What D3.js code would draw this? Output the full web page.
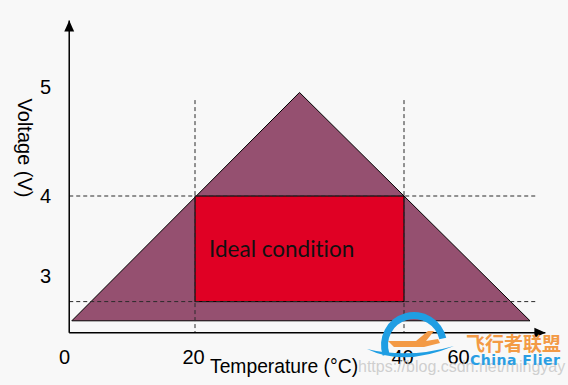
<!DOCTYPE html>
<html>
<head>
<meta charset="utf-8">
<script src="https://cdn.jsdelivr.net/npm/d3@7"></script>
<style>
  body { margin: 0; background: #f8f8f8; }
  svg { display: block; }
</style>
</head>
<body>
<svg id="chart" width="568" height="385"></svg>
<script>
// Schematic: operating window (triangle) and ideal condition (rectangle)
const xTicks = [0, 20, 40, 60];
const yTicks = [3, 4, 5];

// axis extents (temperature, voltage)
const tMin = 0.5, tMax = 90.5;
const vMin = 2.29, vMax = 5.61;

// operating range triangle
const triTemp = [0.9, 30, 85];
const triVolt = [2.44, 4.95, 2.44];

// ideal condition box
const idealTemp = [20, 40];
const idealVolt = [2.68, 4];

// guide lines
const guideTempEnd = 87;
const guideVoltTop = 4.88;

const svg = d3.select("#chart");

// the picture's ticks are not evenly spaced, so piecewise scales
const x = d3.scaleLinear().domain(xTicks).range([66, 195, 404, 460]);
const y = d3.scaleLinear().domain(yTicks).range([276, 196, 87]);

// arrow head
svg.append("defs").append("marker")
    .attr("id", "arrow")
    .attr("viewBox", "0 -5 10 10")
    .attr("refX", 10)
    .attr("refY", 0)
    .attr("markerUnits", "userSpaceOnUse")
    .attr("markerWidth", 11)
    .attr("markerHeight", 11)
    .attr("orient", "auto")
  .append("path")
    .attr("d", "M0,-4.5L10,0L0,4.5Z")
    .attr("fill", "#000");

// triangle
const tri = triTemp.map((t, i) => [x(t), y(triVolt[i])]);
svg.append("path")
    .attr("d", d3.line()(tri) + "Z")
    .attr("fill", "#955070")
    .attr("stroke", "#000")
    .attr("stroke-width", 1);

// ideal box
svg.append("rect")
    .attr("x", x(idealTemp[0]))
    .attr("y", y(idealVolt[1]))
    .attr("width", x(idealTemp[1]) - x(idealTemp[0]))
    .attr("height", y(idealVolt[0]) - y(idealVolt[1]))
    .attr("fill", "#e00024")
    .attr("stroke", "#000")
    .attr("stroke-width", 1);

// dashed guides
const guides = svg.append("g")
    .attr("stroke", "#2a2a2a")
    .attr("stroke-width", 1)
    .attr("stroke-dasharray", "4,3");

idealVolt.forEach(v => {
    guides.append("line")
        .attr("x1", x(tMin)).attr("x2", x(guideTempEnd))
        .attr("y1", y(v)).attr("y2", y(v));
});
idealTemp.forEach(t => {
    guides.append("line")
        .attr("x1", x(t)).attr("x2", x(t))
        .attr("y1", y(guideVoltTop)).attr("y2", y(vMin));
});

// axes lines with arrows
svg.append("line")
    .attr("x1", x(tMin)).attr("y1", y(vMin))
    .attr("x2", x(tMax)).attr("y2", y(vMin))
    .attr("stroke", "#000").attr("stroke-width", 1.5)
    .attr("marker-end", "url(#arrow)");
svg.append("line")
    .attr("x1", x(tMin)).attr("y1", y(vMin))
    .attr("x2", x(tMin)).attr("y2", y(vMax))
    .attr("stroke", "#000").attr("stroke-width", 1.5)
    .attr("marker-end", "url(#arrow)");

// tick labels
const font = "'Liberation Sans', Arial, sans-serif";

svg.append("g")
    .attr("transform", `translate(0,${y(vMin)})`)
    .call(d3.axisBottom(x).tickValues(xTicks).tickSize(0).tickPadding(17).tickFormat(d3.format("d")))
    .call(g => g.select(".domain").remove())
    .call(g => g.selectAll("text").attr("dx", -2))
    .attr("font-size", 20)
    .attr("font-family", font);

svg.append("g")
    .attr("transform", `translate(${x(tMin)},0)`)
    .call(d3.axisLeft(y).tickValues(yTicks).tickSize(0).tickPadding(18).tickFormat(d3.format("d")))
    .call(g => g.select(".domain").remove())
    .attr("font-size", 20)
    .attr("font-family", font);

// axis titles
svg.append("text")
    .attr("x", 210)
    .attr("y", 373)
    .attr("font-family", font)
    .attr("font-size", 19.3)
    .text("Temperature (°C)");

svg.append("text")
    .attr("transform", "translate(18,148) rotate(90)")
    .attr("text-anchor", "middle")
    .attr("font-family", font)
    .attr("font-size", 20)
    .text("Voltage (V)");

// box label
svg.append("text")
    .attr("x", x(idealTemp[0]) + 14)
    .attr("y", (y(idealVolt[0]) + y(idealVolt[1])) / 2 + 8.5)
    .attr("font-family", "Lato, 'Open Sans', sans-serif")
    .attr("font-size", 22.5)
    .style("font-variant-ligatures", "none")
    .attr("fill", "#111")
    .text("Ideal condition");

// watermark
const wm = svg.append("g").attr("pointer-events", "none");
wm.append("text")
    .attr("x", 358).attr("y", 372)
    .attr("font-family", font)
    .attr("font-size", 16)
    .attr("fill", "#c4c4c4")
    .attr("fill-opacity", 0.8)
    .text("https://blog.csdn.net/mingyay");

const logo = wm.append("g").attr("transform", "translate(414,345)");
logo.append("path")
    .attr("d", d3.arc()({innerRadius: 26, outerRadius: 33, startAngle: -1.9, endAngle: 1.35}))
    .attr("fill", "#1f9ee3");
logo.append("path")
    .attr("d", "M-47,4 Q-10,22 40,1 Q-5,14 -47,4Z")
    .attr("fill", "#1f9ee3");
logo.append("path")
    .attr("d", "M-26,-4 L2,-4 L14,-14 L20,-14 L12,-4 L24,-6 L26,-2 L10,2 L-20,2 Z")
    .attr("fill", "#f39a45");

wm.append("text")
    .attr("x", 466).attr("y", 351)
    .attr("font-family", "'Noto Sans CJK SC', sans-serif")
    .attr("font-size", 19)
    .attr("font-weight", "bold")
    .attr("fill", "#f39a45")
    .text("飞行者联盟");
wm.append("text")
    .attr("x", 470).attr("y", 365)
    .attr("font-family", "'DejaVu Sans', sans-serif")
    .attr("font-size", 14)
    .attr("font-weight", "bold")
    .attr("letter-spacing", 0.5)
    .attr("fill", "#2a9ee3")
    .text("China Flier");
</script>
</body>
</html>
